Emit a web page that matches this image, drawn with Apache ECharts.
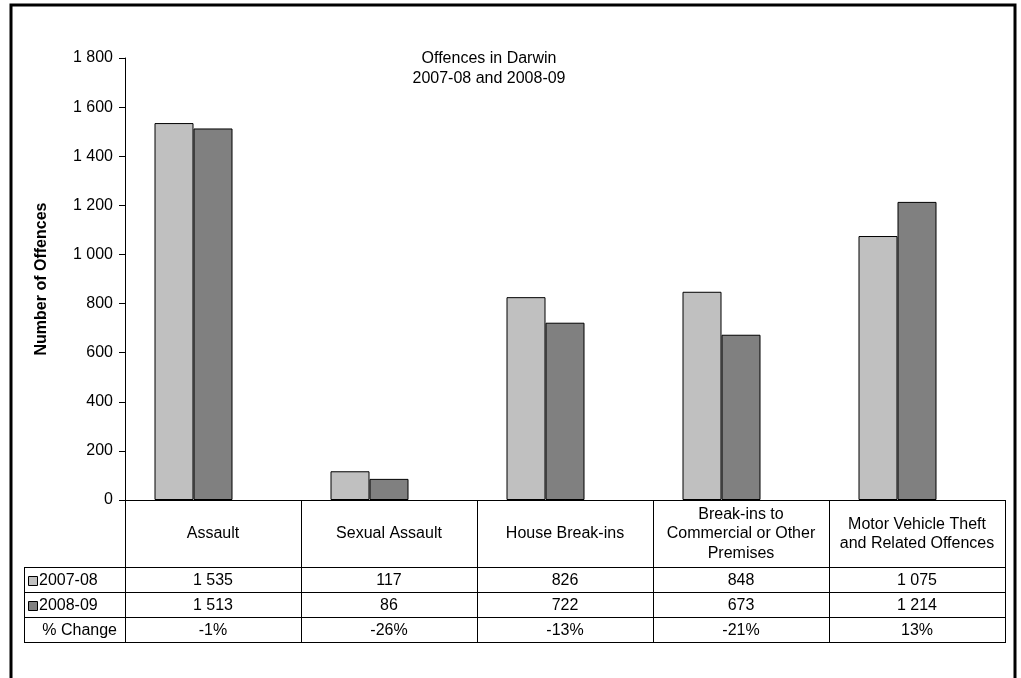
<!DOCTYPE html>
<html>
<head>
<meta charset="utf-8">
<script src="https://cdn.jsdelivr.net/npm/echarts@6/dist/echarts.min.js"></script>
<style>
html,body{margin:0;padding:0;background:#fff;}
#c{width:1021px;height:678px;}
</style>
</head>
<body>
<div id="c"></div>
<script>
// ---- data ----
const categories = ['Assault', 'Sexual Assault', 'House Break-ins', 'Break-ins to\nCommercial or Other\nPremises', 'Motor Vehicle Theft\nand Related Offences'];
const seriesNames = ['2007-08', '2008-09'];
const values2007 = [1535, 117, 826, 848, 1075];
const values2008 = [1513, 86, 722, 673, 1214];
const pctChange = ['-1%', '-26%', '-13%', '-21%', '13%'];
const pctLabel = '% Change';
const titleLines = ['Offences in Darwin', '2007-08 and 2008-09'];
const yAxisTitle = 'Number of Offences';
const yMin = 0, yMax = 1800, yStep = 200;

// ---- style ----
const FONT = 'Liberation Sans, Arial, sans-serif';
const FS = 16;
const colors = ['#C0C0C0', '#808080'];
const fmt = v => String(v).replace(/\B(?=(\d{3})+(?!\d))/g, ' ');

const chart = echarts.init(document.getElementById('c'), null, {renderer: 'canvas'});

const option = {
  animation: false,
  backgroundColor: '#fff',
  textStyle: {fontFamily: FONT},
  title: {
    text: titleLines.join('\n'),
    left: 484, top: 44, textAlign: 'center',
    textStyle: {fontFamily: FONT, fontSize: FS, fontWeight: 'normal', color: '#000', lineHeight: 20}
  },
  grid: {left: 125, right: 16, top: 58, bottom: 178, containLabel: false},
  xAxis: {
    type: 'category', data: categories, boundaryGap: true,
    axisLine: {show: true, lineStyle: {color: '#000', width: 1}},
    axisTick: {show: false},
    splitLine: {show: false},
    axisLabel: {
      interval: 0, margin: 34, verticalAlign: 'middle', align: 'center',
      fontFamily: FONT, fontSize: FS, color: '#000', lineHeight: 19.5
    }
  },
  yAxis: {
    type: 'value', min: yMin, max: yMax, interval: yStep,
    name: yAxisTitle, nameLocation: 'middle', nameGap: 75,
    nameTextStyle: {fontFamily: FONT, fontSize: FS, fontWeight: 'bold', color: '#000'},
    axisLine: {show: true, lineStyle: {color: '#000', width: 1}},
    axisTick: {show: true, length: 6, inside: false, lineStyle: {color: '#000'}},
    splitLine: {show: false},
    axisLabel: {margin: 12, fontFamily: FONT, fontSize: FS, color: '#000', formatter: fmt}
  },
  series: [
    {name: seriesNames[0], type: 'bar', data: values2007, barWidth: 39, barGap: '0%',
     itemStyle: {color: colors[0], borderColor: '#000', borderWidth: 1}},
    {name: seriesNames[1], type: 'bar', data: values2008, barWidth: 39, barGap: '0%',
     itemStyle: {color: colors[1], borderColor: '#000', borderWidth: 1}},
    // empty slot series (keeps Excel-like left offset of bar pairs)
    {name: 'slot', type: 'bar', data: categories.map(() => null), barWidth: 39, barGap: '0%', silent: true}
  ]
};
chart.setOption(option);

// ---- data table drawn below the axis ----
const c0 = chart.convertToPixel({xAxisIndex: 0}, 0);
const c1 = chart.convertToPixel({xAxisIndex: 0}, 1);
const band = c1 - c0;
const axisY = Math.round(chart.convertToPixel({yAxisIndex: 0}, 0));
const leftEdge = Math.round(c0 - band / 2);
const rightEdge = Math.round(c0 + band * (categories.length - 0.5));
const headerBottom = axisY + 67;
const rowH = 25;
const tableBottom = headerBottom + rowH * 3;
const legendLeft = 24;
const lineStyle = {stroke: '#000', lineWidth: 1};
const els = [];
const hline = (x1, x2, y) => els.push({type: 'line', shape: {x1: x1, y1: y + 0.5, x2: x2, y2: y + 0.5}, style: lineStyle, silent: true});
const vline = (x, y1, y2) => els.push({type: 'line', shape: {x1: x + 0.5, y1: y1, x2: x + 0.5, y2: y2}, style: lineStyle, silent: true});

for (let r = 0; r <= 3; r++) hline(legendLeft, rightEdge + 1, headerBottom + r * rowH);
for (let i = 0; i <= categories.length; i++) vline(Math.round(leftEdge + i * band), axisY, tableBottom + 1);
vline(legendLeft, headerBottom, tableBottom + 1);

const rows = [values2007.map(fmt), values2008.map(fmt), pctChange];
rows.forEach((row, r) => {
  const cy = headerBottom + r * rowH + rowH / 2 + 1;
  row.forEach((txt, i) => {
    els.push({type: 'text', x: c0 + i * band, y: cy, silent: true,
      style: {text: txt, fontFamily: FONT, fontSize: FS, fill: '#000', align: 'center', verticalAlign: 'middle'}});
  });
  if (r < 2) {
    els.push({type: 'rect', shape: {x: 28.5, y: Math.round(cy - 5) + 0.5, width: 9, height: 9},
      style: {fill: colors[r], stroke: '#000', lineWidth: 1}, silent: true});
    els.push({type: 'text', x: 39, y: cy, silent: true,
      style: {text: seriesNames[r], fontFamily: FONT, fontSize: FS, fill: '#000', align: 'left', verticalAlign: 'middle'}});
  } else {
    els.push({type: 'text', x: 117, y: cy, silent: true,
      style: {text: pctLabel, fontFamily: FONT, fontSize: FS, fill: '#000', align: 'right', verticalAlign: 'middle'}});
  }
});

// outer frame
els.push({type: 'rect', shape: {x: 11, y: 5, width: 1004, height: 700},
  style: {fill: 'none', stroke: '#000', lineWidth: 3}, silent: true});

chart.setOption({graphic: {elements: els}});
</script>
</body>
</html>
